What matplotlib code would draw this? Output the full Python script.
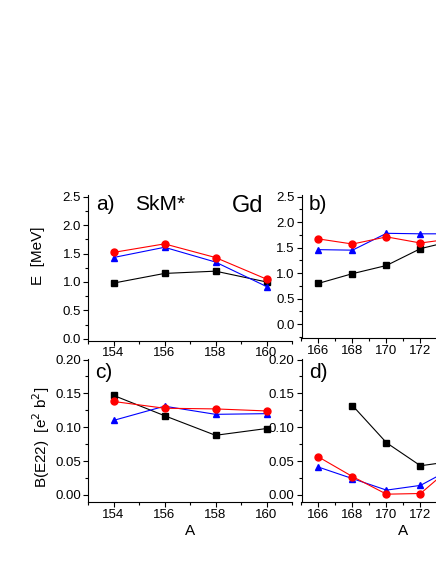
# Gd isotopes, SkM*: excitation energy and B(E2) vs mass number
import matplotlib.pyplot as plt
from matplotlib.ticker import MultipleLocator

plt.rcParams['font.family'] = ['Liberation Sans', 'DejaVu Sans']

A_left = [154, 156, 158, 160]
A_right = [166, 168, 170, 172, 174]

E_black_left = [0.98, 1.15, 1.19, 1.00]
E_red_left = [1.52, 1.67, 1.43, 1.05]
E_blue_left = [1.43, 1.61, 1.35, 0.92]

E_black_right = [0.80, 0.99, 1.15, 1.48, 1.64]
E_red_right = [1.67, 1.57, 1.71, 1.59, 1.68]
E_blue_right = [1.46, 1.45, 1.78, 1.77, 1.77]

B_black_left = [0.147, 0.117, 0.088, 0.098]
B_red_left = [0.138, 0.128, 0.127, 0.124]
B_blue_left = [0.110, 0.131, 0.119, 0.120]

A_right_black = [168, 170, 172, 174]
B_black_right = [0.132, 0.077, 0.043, 0.050]
B_red_right = [0.056, 0.027, 0.001, 0.002, 0.045]
B_blue_right = [0.041, 0.024, 0.007, 0.014, 0.041]

fig = plt.figure(figsize=(4.36, 5.64), dpi=100)

W, H = 436.0, 564.0


def make_ax(x0, y0, x1, y1):
    return fig.add_axes([x0 / W, (H - y1) / H, (x1 - x0) / W, (y1 - y0) / H])


ax_a = make_ax(88, 195, 292, 340.5)
ax_b = make_ax(301.5, 195, 505.5, 338)
ax_c = make_ax(88, 358.5, 292, 502.3)
ax_d = make_ax(301.5, 358.5, 505.5, 502.3)


def style(ax, xmaj, ymaj):
    for s in ['top', 'right']:
        ax.spines[s].set_visible(False)
    for s in ['left', 'bottom']:
        ax.spines[s].set_linewidth(0.8)
    ax.xaxis.set_major_locator(MultipleLocator(xmaj))
    ax.xaxis.set_minor_locator(MultipleLocator(xmaj / 2))
    ax.yaxis.set_major_locator(MultipleLocator(ymaj))
    ax.yaxis.set_minor_locator(MultipleLocator(ymaj / 2))
    ax.tick_params(which='major', direction='out', length=3.5, width=0.8,
                   labelsize=9.5, pad=1.5)
    ax.tick_params(which='minor', direction='out', length=2, width=0.8)


def lines(ax, xb, yb, xr, yr, xbl, ybl):
    ax.plot(xb, yb, color='black', marker='s', ms=4, lw=0.8, clip_on=True)
    ax.plot(xbl, ybl, color='blue', marker='^', ms=5, lw=0.8)
    ax.plot(xr, yr, color='red', marker='o', ms=5, lw=0.8)


lines(ax_a, A_left, E_black_left, A_left, E_red_left, A_left, E_blue_left)
lines(ax_b, A_right, E_black_right, A_right, E_red_right, A_right, E_blue_right)
lines(ax_c, A_left, B_black_left, A_left, B_red_left, A_left, B_blue_left)
lines(ax_d, A_right_black, B_black_right, A_right, B_red_right, A_right, B_blue_right)

ax_a.set_xlim(153, 161)
ax_a.set_ylim(-0.03, 2.53)
ax_b.set_xlim(165, 177)
ax_b.set_ylim(-0.27, 2.53)
ax_c.set_xlim(153, 161)
ax_c.set_ylim(-0.011, 0.2015)
ax_d.set_xlim(165, 177)
ax_d.set_ylim(-0.011, 0.2015)

style(ax_a, 2, 0.5)
style(ax_b, 2, 0.5)
style(ax_c, 2, 0.05)
style(ax_d, 2, 0.05)
ax_c.yaxis.set_major_formatter(lambda v, p: '%.2f' % v)
ax_d.yaxis.set_major_formatter(lambda v, p: '%.2f' % v)

ax_c.set_xlabel('A', fontsize=11, labelpad=2)
ax_d.set_xlabel('A', fontsize=11, labelpad=2)


def ftext(x, y, s, **kw):
    fig.text(x / W, 1 - y / H, s, **kw)


ftext(105, 205, 'a)', fontsize=15, ha='center', va='center')
ftext(160, 205, 'SkM*', fontsize=15, ha='center', va='center')
ftext(248, 206, 'Gd', fontsize=17, ha='center', va='center')
ftext(318, 205, 'b)', fontsize=15, ha='center', va='center')
ftext(104, 373, 'c)', fontsize=15, ha='center', va='center')
ftext(318, 373, 'd)', fontsize=15, ha='center', va='center')

ftext(38, 256, 'E  [MeV]', fontsize=11, rotation=90, ha='center', va='center')
ftext(41, 437, 'B(E22)  [e$^2$ b$^2$]', fontsize=11, rotation=90,
      ha='center', va='center')

plt.savefig('out.png', dpi=100)
